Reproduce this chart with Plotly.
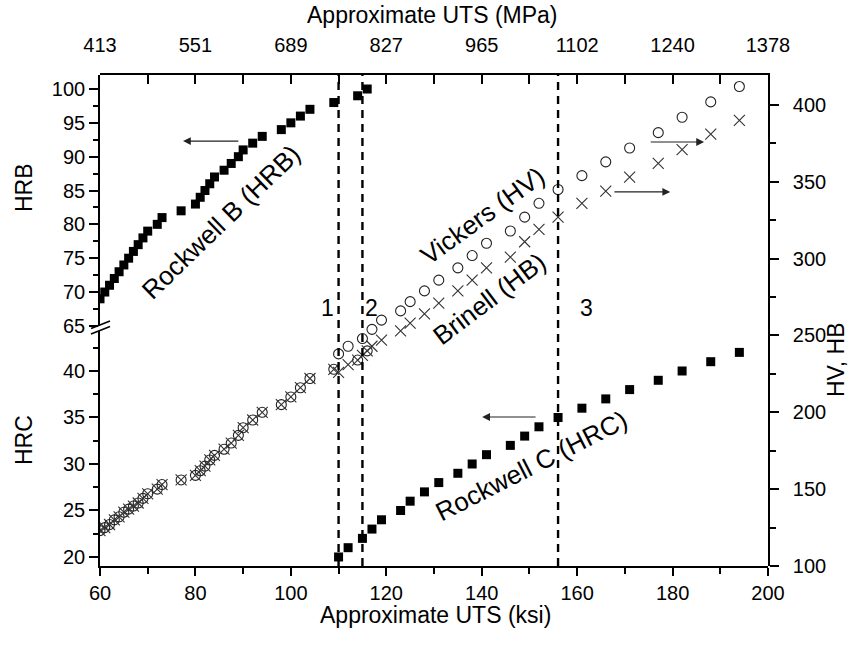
import plotly.graph_objects as go

# ---------------- data ----------------
ksi_ticks = [60, 80, 100, 120, 140, 160, 180, 200]
ksi_minor = [70, 90, 110, 130, 150, 170, 190]
mpa_labels = ["413", "551", "689", "827", "965", "1102", "1240", "1378"]

# Rockwell B range
hrb = [69, 70, 71, 72, 73, 74, 75, 76, 77, 78, 79, 80, 81, 82, 83, 84, 85, 86,
       87, 88, 89, 90, 91, 92, 93, 94, 95, 96, 97, 98, 99, 100]
hrb_uts = [60, 61, 62, 63, 64, 65, 66, 67, 68, 69, 70, 72, 73, 77, 80, 81, 82, 83,
           84, 86, 87.5, 89, 90, 92, 94, 98, 100, 102, 104, 109, 114, 116]
hrb_hv = [123, 125, 127, 130, 132, 135, 137, 139, 141, 144, 147, 150, 153, 156, 159, 162, 165, 169,
          172, 176, 180, 185, 190, 195, 200, 205, 210, 216, 222, 228, 234, 240]
hrb_hb = [123, 125, 127, 130, 132, 135, 137, 139, 141, 144, 147, 150, 153, 156, 159, 162, 165, 169,
          172, 176, 180, 185, 190, 195, 200, 205, 210, 216, 222, 228, 234, 240]

# Rockwell C range
hrc = [20, 21, 22, 23, 24, 25, 26, 27, 28, 29, 30, 31, 32, 33, 34, 35, 36, 37, 38, 39, 40, 41, 42]
hrc_uts = [110, 112, 115, 117, 119, 123, 125, 128, 131, 135, 138, 141, 146, 149, 152, 156,
           161, 166, 171, 177, 182, 188, 194]
hrc_hv = [238, 243, 248, 254, 260, 266, 272, 279, 286, 294, 302, 310, 318, 327, 336, 345,
          354, 363, 372, 382, 392, 402, 412]
hrc_hb = [226, 231, 237, 243, 247, 253, 258, 264, 271, 279, 286, 294, 301, 311, 319, 327,
          336, 344, 353, 362, 371, 381, 390]

div_uts = [110, 115, 156]
div_labels = ["1", "2", "3"]

# ---------------- styling helpers ----------------
FONT = "Liberation Sans, Arial, Helvetica, sans-serif"
L, R, T, B = 100, 86, 75, 84
W, H = 854, 650
PW, PH = W - L - R, H - T - B


def fx(px):
    return (px - L) / PW


def fy(py):
    return (H - B - py) / PH


brk_lo = fy(331)   # top of HRC part
brk_hi = fy(326)   # bottom of HRB part

fig = go.Figure()

circ = dict(symbol="circle-open", size=10, color="#222", line=dict(width=1.1, color="#222"))
xmk = dict(symbol="x-thin-open", size=11, color="#333", line=dict(width=1.1, color="#333"))
sq = dict(symbol="square", size=9, color="black")

# HV / HB on right axis
fig.add_trace(go.Scatter(x=hrb_uts, y=hrb_hv, xaxis="x", yaxis="y3", mode="markers", marker=circ, hoverinfo="skip"))
fig.add_trace(go.Scatter(x=hrb_uts, y=hrb_hb, xaxis="x", yaxis="y3", mode="markers", marker=xmk, hoverinfo="skip"))
fig.add_trace(go.Scatter(x=hrc_uts, y=hrc_hv, xaxis="x", yaxis="y3", mode="markers", marker=circ, hoverinfo="skip"))
fig.add_trace(go.Scatter(x=hrc_uts, y=hrc_hb, xaxis="x", yaxis="y3", mode="markers", marker=xmk, hoverinfo="skip"))
# Rockwell
fig.add_trace(go.Scatter(x=hrb_uts, y=hrb, xaxis="x", yaxis="y2", mode="markers", marker=sq, hoverinfo="skip"))
fig.add_trace(go.Scatter(x=hrc_uts, y=hrc, xaxis="x", yaxis="y", mode="markers", marker=sq, hoverinfo="skip"))
# invisible trace for top axis
fig.add_trace(go.Scatter(x=[ksi_ticks[0], ksi_ticks[-1]], y=[150, 150], xaxis="x2", yaxis="y3",
                         mode="markers", marker=dict(opacity=0), hoverinfo="skip"))

axis_common = dict(showline=True, linecolor="black", linewidth=1.6, showgrid=False, zeroline=False,
                   tickcolor="black", tickwidth=1.5, tickfont=dict(family=FONT, size=20, color="black"))

fig.update_layout(
    width=W, height=H,
    margin=dict(l=L, r=R, t=T, b=B),
    paper_bgcolor="white", plot_bgcolor="rgba(0,0,0,0)",
    showlegend=False,
    font=dict(family=FONT, color="black"),
    xaxis=dict(range=[60, 200], tickmode="array", tickvals=ksi_ticks, ticks="outside", ticklen=8,
               minor=dict(tickmode="array", tickvals=ksi_minor, ticks="outside", ticklen=6,
                          tickcolor="black", tickwidth=1.5),
               anchor="y", **axis_common),
    xaxis2=dict(range=[60, 200], overlaying="x", side="top", anchor="y3",
                tickmode="array", tickvals=ksi_ticks, ticktext=mpa_labels, ticks="inside", ticklen=9,
                ticklabelstandoff=13,
                minor=dict(tickmode="array", tickvals=ksi_minor, ticks="inside", ticklen=9,
                           tickcolor="black", tickwidth=1.5),
                **axis_common),
    yaxis=dict(domain=[0, brk_lo], range=[19.03, 44.3], tick0=20, dtick=5, ticks="outside", ticklen=9,
               minor=dict(dtick=2.5, tick0=20, ticks="outside", ticklen=5, tickcolor="black", tickwidth=1.5),
               anchor="x", side="left", **axis_common),
    yaxis2=dict(domain=[brk_hi, 1], range=[64.98, 102.07], tick0=65, dtick=5, ticks="outside", ticklen=9,
                minor=dict(dtick=2.5, tick0=65, ticks="outside", ticklen=5, tickcolor="black", tickwidth=1.5),
                anchor="x", side="left", **axis_common),
    yaxis3=dict(domain=[0, 1], range=[100, 419.5], tick0=100, dtick=50, ticks="outside", ticklen=9,
                ticklabelstandoff=10,
                minor=dict(dtick=25, tick0=100, ticks="outside", ticklen=6, tickcolor="black", tickwidth=1.5),
                anchor="x", side="right", **axis_common),
)

# dashed vertical division lines
for xv in div_uts:
    fig.add_shape(type="line", xref="x", yref="paper", x0=xv, x1=xv, y0=0, y1=1,
                  line=dict(color="black", width=2.4, dash="8px,6px"))

# axis break marks
for yc in (324.5, 330.0):
    fig.add_shape(type="line", xref="paper", yref="paper",
                  x0=fx(91), y0=fy(yc + 4), x1=fx(110), y1=fy(yc - 3.5),
                  line=dict(color="black", width=1.6))

C = dict(xanchor="center", yanchor="middle", showarrow=False)
ann = []
# division labels
for xv, lab, sh in zip(div_uts, div_labels, [-11, 9, 28]):
    ann.append(dict(x=xv, y=fy(308), xref="x", yref="paper", text=lab, xshift=sh,
                    font=dict(family=FONT, size=23, color="black"), **C))

# axis titles
tfont = dict(family=FONT, size=23, color="black")
ann += [
    dict(x=fx(435), y=fy(615), xref="paper", yref="paper", text="Approximate UTS (ksi)", font=tfont, **C),
    dict(x=fx(432), y=fy(15), xref="paper", yref="paper", text="Approximate UTS (MPa)", font=tfont, **C),
    dict(x=fx(24), y=fy(188), xref="paper", yref="paper", text="HRB", textangle=-90, font=tfont, **C),
    dict(x=fx(24), y=fy(440), xref="paper", yref="paper", text="HRC", textangle=-90, font=tfont, **C),
    dict(x=fx(836), y=fy(360), xref="paper", yref="paper", text="HV, HB", textangle=-90, font=tfont, **C),
]

# series labels
lfont = dict(family=FONT, size=26, color="black")
ann += [
    dict(x=fx(221), y=fy(222), xref="paper", yref="paper", text="Rockwell B (HRB)", textangle=-44,
         font=lfont, **C),
    dict(x=fx(482), y=fy(216), xref="paper", yref="paper", text="Vickers (HV)", textangle=-36,
         font=lfont, **C),
    dict(x=fx(489), y=fy(299), xref="paper", yref="paper", text="Brinell (HB)", textangle=-37,
         font=lfont, **C),
    dict(x=fx(531), y=fy(466), xref="paper", yref="paper", text="Rockwell C (HRC)", textangle=-27,
         font=lfont, **C),
]

# arrows indicating the axis for each series
arr = dict(showarrow=True, text="", arrowhead=2, arrowsize=1.3, arrowwidth=1.2, arrowcolor="#222")
ann += [
    dict(x=77.4, y=92.3, ax=89.3, ay=92.3, xref="x", yref="y2", axref="x", ayref="y2", **arr),
    dict(x=140.1, y=35.05, ax=151.6, ay=35.05, xref="x", yref="y", axref="x", ayref="y", **arr),
    dict(x=179.5, y=343.4, ax=167.5, ay=343.4, xref="x", yref="y3", axref="x", ayref="y3", **arr),
    dict(x=186.6, y=375.9, ax=175.1, ay=375.9, xref="x", yref="y3", axref="x", ayref="y3", **arr),
]

fig.update_layout(annotations=ann)
fig.write_html("out.html")
